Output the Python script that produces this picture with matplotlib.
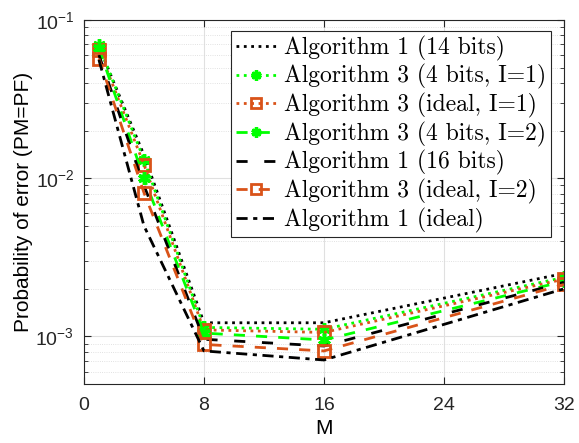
import matplotlib.pyplot as plt
import numpy as np
from matplotlib.ticker import LogLocator, NullFormatter

plt.rcParams['font.family'] = ['Liberation Sans', 'DejaVu Sans']
plt.rcParams['mathtext.fontset'] = 'custom'
plt.rcParams['mathtext.rm'] = 'Liberation Sans'
plt.rcParams['mathtext.it'] = 'Liberation Sans:italic'
plt.rcParams['mathtext.bf'] = 'Liberation Sans:bold'

# data
M = [1, 4, 8, 16, 32]
alg1_14bits = [0.068, 0.0140, 0.00122, 0.00122, 0.0025]
alg3_4bits_i1 = [0.069, 0.0131, 0.00114, 0.00111, 0.00236]
alg3_ideal_i1 = [0.065, 0.0122, 0.00110, 0.00106, 0.0023]
alg3_4bits_i2 = [0.066, 0.0100, 0.00105, 0.00095, 0.00223]
alg1_16bits = [0.060, 0.0090, 0.00096, 0.00087, 0.0022]
alg3_ideal_i2 = [0.057, 0.0081, 0.00089, 0.00081, 0.00213]
alg1_ideal = [0.056, 0.0050, 0.00081, 0.00071, 0.0020]

labels = ['Algorithm 1 (14 bits)', 'Algorithm 3 (4 bits, I=1)',
          'Algorithm 3 (ideal, I=1)', 'Algorithm 3 (4 bits, I=2)',
          'Algorithm 1 (16 bits)', 'Algorithm 3 (ideal, I=2)',
          'Algorithm 1 (ideal)']

green = '#00ff00'
orange = '#D95319'
asterisk = (6, 2, 0)

fig = plt.figure(figsize=(5.79, 4.43), dpi=100)
ax = fig.add_axes([0.145, 0.133, 0.829, 0.822])

ax.semilogy(M, alg1_14bits, ':', color='k', lw=2, label=labels[0])
ax.semilogy(M, alg3_4bits_i1, ':', color=green, lw=2, marker=asterisk,
            ms=9, mew=2.5, label=labels[1])
ax.semilogy(M, alg3_ideal_i1, ':', color=orange, lw=2, marker='s',
            ms=9, mew=2, mfc='none', label=labels[2])
ax.semilogy(M, alg3_4bits_i2, '--', color=green, lw=2, marker=asterisk,
            ms=9, mew=2.5, label=labels[3], dashes=(4, 4))
ax.semilogy(M, alg1_16bits, '--', color='k', lw=2, label=labels[4],
            dashes=(4, 6))
ax.semilogy(M, alg3_ideal_i2, '--', color=orange, lw=2, marker='s',
            ms=9, mew=2, mfc='none', label=labels[5], dashes=(4, 4))
ax.semilogy(M, alg1_ideal, '-.', color='k', lw=2, label=labels[6],
            dashes=(4, 2, 1.5, 2))

ax.set_xlim(0, 32)
ax.set_ylim(5e-4, 0.1)
ax.set_xticks([0, 8, 16, 24, 32])
ax.yaxis.set_minor_locator(LogLocator(base=10, subs=np.arange(2, 10)))
ax.yaxis.set_minor_formatter(NullFormatter())

ax.grid(True, which='major', color='#e0e0e0', lw=0.8)
ax.grid(True, which='minor', axis='y', color='#d8d8d8', lw=0.6, ls=':')
ax.set_axisbelow(True)

ax.tick_params(which='both', direction='in', top=True, right=True,
               labelsize=14, colors='#262626')
ax.tick_params(which='major', length=5)
ax.tick_params(which='minor', length=3)
ax.tick_params(axis='x', pad=9)
ax.tick_params(axis='y', pad=7)
for s in ax.spines.values():
    s.set_color('#262626')
    s.set_linewidth(0.8)

ax.set_xlabel('M', fontsize=15, labelpad=4)
ax.set_ylabel('Probability of error (PM=PF)', fontsize=15, labelpad=2)

leg = ax.legend(loc='upper right', bbox_to_anchor=(551 / 579, 1 - 31 / 443),
                bbox_transform=fig.transFigure, borderaxespad=0,
                prop={'family': 'cmr10', 'size': 17}, fancybox=False,
                framealpha=1, edgecolor='#262626', handlelength=1.75,
                handletextpad=0.3, labelspacing=0.15, borderpad=0.2,
                markerscale=0.8)
leg.get_frame().set_linewidth(0.8)

fig.savefig('out.png', dpi=100)
